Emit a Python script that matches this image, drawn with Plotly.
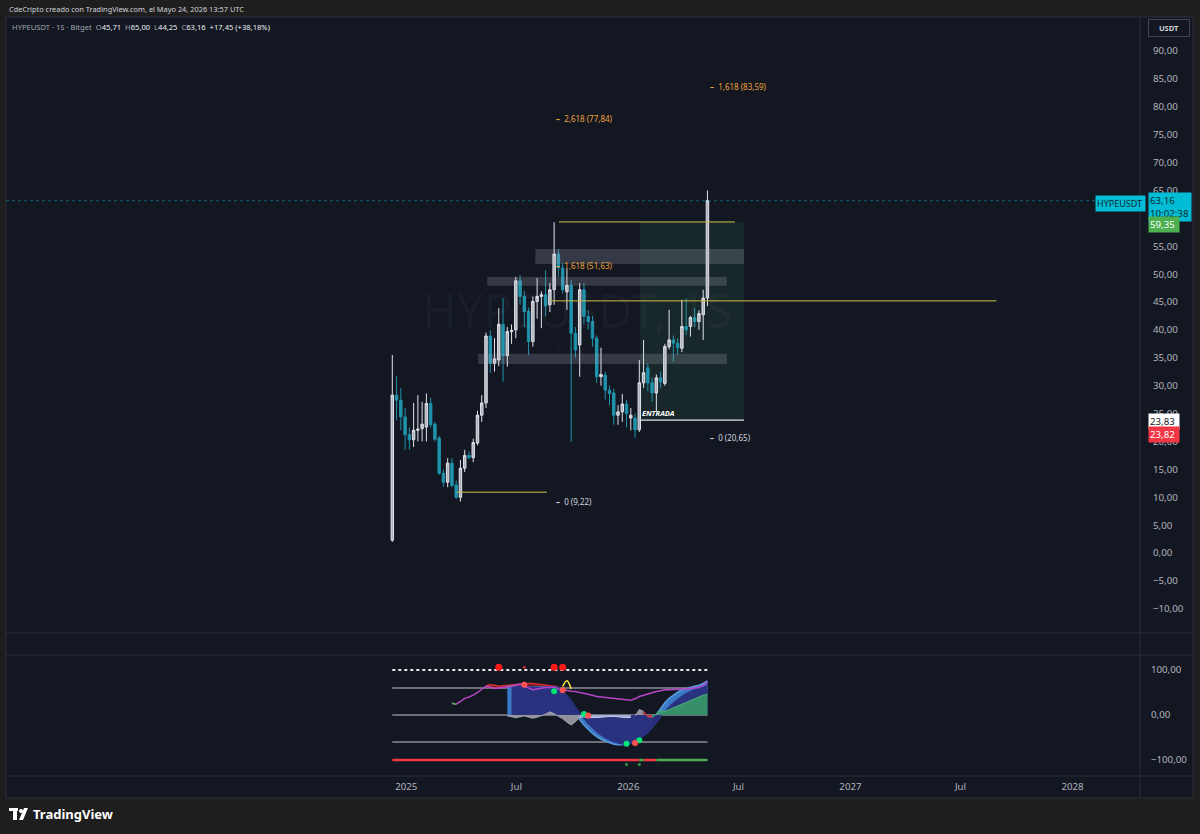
import plotly.graph_objects as go
from datetime import date, timedelta

# ---------------- DATA ----------------
start_week = date(2024, 12, 9)

opens = [2.3, 28.3, 27.4, 24.4, 21.2, 20.3, 22.0, 22.3, 22.6, 26.8,
         23.1, 20.6, 14.3, 12.7, 16.1, 12.2, 10.0, 15.2, 17.5, 17.1,
         19.7, 24.7, 26.9, 38.9, 34.0, 34.6, 41.0, 35.4, 39.7, 40.0,
         48.8, 46.0, 43.3, 37.9, 45.1, 46.0, 46.3, 44.5, 47.2, 53.6,
         51.1, 46.8, 48.0, 39.4, 37.3, 47.2, 42.4, 41.5, 38.5, 31.6,
         31.9, 29.2, 28.7, 24.7, 25.3, 26.7, 24.2, 24.2, 22.1, 30.5,
         33.2, 30.5, 28.7, 31.4, 30.4, 37.0, 38.2, 37.6, 36.7, 40.6,
         40.6, 42.2, 41.5, 42.7, 45.71]
highs = [35.5, 31.7, 29.6, 26.0, 22.5, 26.9, 28.3, 27.1, 28.6, 27.8,
         23.5, 21.0, 15.0, 17.0, 17.0, 13.0, 16.7, 18.5, 18.2, 20.5,
         25.5, 28.3, 39.5, 39.9, 38.5, 43.9, 45.7, 40.5, 41.0, 49.5,
         49.8, 47.0, 44.0, 46.0, 49.3, 46.9, 50.7, 48.4, 59.3, 54.5,
         52.0, 51.0, 49.0, 40.5, 48.4, 48.4, 43.5, 42.5, 39.0, 36.8,
         32.5, 30.0, 29.5, 26.5, 28.5, 27.5, 26.0, 25.0, 34.6, 38.2,
         34.0, 31.5, 32.0, 32.5, 37.5, 43.6, 39.0, 38.5, 45.4, 45.6,
         42.5, 44.0, 43.5, 47.2, 65.0]
lows = [2.0, 23.8, 22.0, 18.5, 18.5, 19.0, 20.0, 20.0, 20.0, 22.5,
        20.0, 14.0, 11.9, 11.8, 11.8, 9.7, 9.22, 14.5, 16.8, 16.3,
        19.3, 23.5, 26.0, 32.3, 32.5, 33.5, 30.7, 33.4, 37.5, 38.5,
        44.5, 40.5, 35.5, 37.0, 42.0, 40.3, 42.4, 43.2, 44.5, 49.5,
        46.5, 43.6, 20.0, 35.0, 31.6, 41.0, 40.0, 37.0, 30.5, 30.0,
        27.5, 26.5, 23.0, 23.0, 23.5, 22.5, 22.0, 20.65, 21.7, 29.6,
        29.0, 27.1, 25.3, 29.5, 30.0, 36.5, 34.3, 35.5, 36.0, 39.0,
        38.8, 40.5, 40.0, 38.2, 44.25]
closes = [28.3, 27.4, 24.4, 21.2, 20.3, 22.0, 22.2, 23.1, 26.8, 23.0,
          20.4, 14.3, 12.7, 16.1, 12.1, 10.0, 15.2, 17.5, 17.1, 19.8,
          24.7, 26.9, 38.9, 34.0, 34.8, 41.0, 35.4, 39.7, 39.9, 48.8,
          46.0, 43.3, 37.9, 45.1, 46.0, 46.3, 44.3, 47.2, 53.6, 51.1,
          47.2, 48.0, 39.4, 36.4, 47.2, 42.4, 41.5, 38.5, 31.6, 32.0,
          29.2, 28.6, 24.7, 25.3, 26.7, 25.0, 24.7, 22.1, 30.5, 32.3,
          30.5, 28.7, 31.4, 30.7, 37.0, 38.2, 37.6, 36.8, 40.6, 40.0,
          42.2, 41.5, 42.9, 45.7, 63.16]

# oscillator pane (values per weekly bar, None before the indicator starts)
osc_rsi = [None] * 14 + [26, 24, 30, 37, 40, 44, 50, 58, 64, 62, 59, 60, 61, 62, 64, 67, 69, 64, 60, 56,
                         58, 60, 61, 61, 62, 58, 56, 54, 53, 52, 50, 49, 46, 44, 41, 40, 38, 37, 36, 36,
                         35, 34, 33, 36, 41, 44, 47, 50, 52, 54, 56, 56, 57, 57, 58, 58, 59, 60, 61, 66, 74]
osc_fast = [None] * 27 + [64, 64, 64, 64, 63, 62, 62, 63, 63, 63, 63, 62, 56, 45, 32, 18, 3, -10, -22, -32,
                          -41, -48, -54, -58, -62, -65, -66, -66, -64, -60, -53, -45, -36, -25, -12, 2, 15, 27, 37, 45,
                          51, 56, 59, 62, 64, 66, 70, 76]
osc_slow = [None] * 28 + [62, 63, 64, 64, 63, 62, 62, 62, 63, 63, 63, 62, 55, 45, 33, 18, 4, -9, -20, -30,
                          -38, -45, -51, -56, -60, -63, -65, -65, -64, -60, -54, -47, -40, -30, -18, -5, 8, 19, 28, 36,
                          42, 48, 53, 57, 60, 62, 66]
osc_mom = [None] * 27 + [-2, -4, -6, -4, -2, -5, -7, -5, -2, 2, 7, 3, -3, -8, -16, -22, -15, -5, -4, -6,
                         -6, -5, -5, -4, -3, -3, -4, -5, -6, -5, -2, 12, 8, -4, -5, 2, 10, 8, 12, 16,
                         20, 24, 28, 32, 36, 40, 44, 46]
osc_ob = [None] * 22 + [65, 67, 66, 64, 65, 66, 67, 68, 68, 69, 70, 70, 69, 68, 67, 66, 65, 63]
osc_arc = [(40, 63), (41, 76), (42, 58)]
osc_levels = [100, 60, 0, -60]
osc_trend = -100
# bar index ranges of the trend line colours
trend_red = [(0, 58), (59, 62)]
trend_green = [(58, 59), (62, 74)]
# signal dots: (bar index, value)
dots_red_top = [(25, 106), (38, 106), (40, 106)]
dots_red_tiny = [(31, 106)]
dots_green = [(38, 53), (45, 2), (55, -64), (58, -56)]
dots_red = [(40, 55), (31, 67), (46, -1), (57, -62)]
dots_green_small = [(55, -110), (58, -110)]

# price axis ticks
price_ticks = [-10, -5, 0, 5, 10, 15, 20, 25, 30, 35, 40, 45, 50, 55, 60, 65, 70, 75, 80, 85, 90]
price_tick_text = ["−10,00", "−5,00", "0,00", "5,00", "10,00", "15,00", "20,00", "25,00", "30,00", "35,00",
                   "40,00", "45,00", "50,00", "55,00", "60,00", "65,00", "70,00", "75,00", "80,00", "85,00", "90,00"]
osc_ticks = [100, 0, -100]
osc_tick_text = ["100,00", "0,00", "−100,00"]
time_ticks = ["2025-01-01", "2025-07-01", "2026-01-01", "2026-07-01", "2027-01-01", "2027-07-01", "2028-01-01"]
time_tick_text = ["2025", "Jul", "2026", "Jul", "2027", "Jul", "2028"]

# drawings (dates, prices)
zones = [("2025-08-01", "2026-07-10", 51.8, 54.5),
         ("2025-05-14", "2026-06-12", 47.9, 49.5),
         ("2025-04-29", "2026-06-12", 33.9, 35.7)]
long_pos = ("2026-01-20", "2026-07-10", 23.83, 59.35)
yellow_lines = [("2025-09-09", "2026-06-25", 59.35),
                ("2025-08-25", "2027-08-29", 45.2),
                ("2025-03-25", "2025-08-20", 10.9)]
fib_labels = [("2025-09-01", 9.22, "0 (9,22)", "#d1d4dc"),
              ("2025-09-01", 51.63, "1,618 (51,63)", "#f0a23a"),
              ("2025-09-01", 77.84, "2,618 (77,84)", "#f0a23a"),
              ("2026-05-12", 83.59, "1,618 (83,59)", "#f0a23a"),
              ("2026-05-12", 20.65, "0 (20,65)", "#d1d4dc")]
last_price = 63.16

N = len(opens)
dates = [start_week + timedelta(weeks=i) for i in range(N)]


def fit(a):
    return (list(a) + [None] * N)[:N]


# ---------------- FIGURE ----------------
W, H = 1200, 834
def px(x): return x / W
def py(y): return 1 - y / H

BG = "#131722"
OUT = "#1e1e1e"
TXT = "#b2b5be"
FONT = "Noto Sans"
TICK = 9.7

d0 = date(2025, 1, 1)
ppd = 0.6086
x_left = d0 + timedelta(days=(6 - 406) / ppd)
x_right = d0 + timedelta(days=(1140 - 406) / ppd)
xr = [x_left.isoformat(), x_right.isoformat()]

fig = go.Figure()

# candles
fig.add_trace(go.Candlestick(
    x=dates, open=opens, high=highs, low=lows, close=closes,
    increasing=dict(line=dict(color="#e0e3eb", width=1), fillcolor="#aeb1ba"),
    decreasing=dict(line=dict(color="#1f93ab", width=1), fillcolor="#1f93ab"),
    whiskerwidth=0, xaxis="x", yaxis="y", showlegend=False, hoverinfo="skip"))

# oscillator level lines
lvl_style = {100: dict(color="#e8e8e8", width=2, dash="dot"),
             60: dict(color="#8a8d96", width=1.5),
             0: dict(color="#8a8d96", width=1.5),
             -60: dict(color="#8a8d96", width=1.5)}
for lv in osc_levels:
    fig.add_trace(go.Scatter(x=[dates[0], dates[-1]], y=[lv, lv], mode="lines",
                             line=lvl_style[lv], xaxis="x2", yaxis="y2",
                             showlegend=False, hoverinfo="skip"))

# overbought red band
fig.add_trace(go.Scatter(x=dates, y=fit([None] * 22 + [60] * 18), mode="lines",
                         line=dict(width=0), xaxis="x2", yaxis="y2", showlegend=False, hoverinfo="skip"))
fig.add_trace(go.Scatter(x=dates, y=fit(osc_ob), mode="lines", fill="tonexty",
                         fillcolor="rgba(200,30,40,0.55)", line=dict(color="#d32f2f", width=1.5),
                         xaxis="x2", yaxis="y2", showlegend=False, hoverinfo="skip"))

# wave areas
fig.add_trace(go.Scatter(x=dates, y=fit(osc_fast), mode="lines", fill="tozeroy",
                         fillcolor="rgba(62,126,205,0.95)", line=dict(color="#5b9be0", width=1.5),
                         xaxis="x2", yaxis="y2", showlegend=False, hoverinfo="skip"))
fig.add_trace(go.Scatter(x=dates, y=fit(osc_slow), mode="lines", fill="tozeroy",
                         fillcolor="rgba(40,47,125,0.97)", line=dict(color="#2c3590", width=1),
                         xaxis="x2", yaxis="y2", showlegend=False, hoverinfo="skip"))

# momentum segments
mom = fit(osc_mom)
seg_cols = [((27, 45), "rgba(150,152,160,0.95)", "#a0a3ab"),
            ((44, 57), "rgba(180,185,225,0.9)", "#c6cae8"),
            ((57, 60), "rgba(150,152,160,0.95)", "#a0a3ab"),
            ((59, 62), "rgba(210,50,60,0.9)", "#e04050"),
            ((61, N), "rgba(56,160,100,0.85)", "#4caf7a")]
for (a, b), fc, lc in seg_cols:
    seg = [mom[i] if a <= i < b else None for i in range(N)]
    fig.add_trace(go.Scatter(x=dates, y=seg, mode="lines", fill="tozeroy", fillcolor=fc,
                             line=dict(color=lc, width=1), xaxis="x2", yaxis="y2",
                             showlegend=False, hoverinfo="skip"))

# rsi-like line
rsi = fit(osc_rsi)
fig.add_trace(go.Scatter(x=dates, y=rsi, mode="lines", line=dict(color="#b845c8", width=1.5),
                         xaxis="x2", yaxis="y2", showlegend=False, hoverinfo="skip"))
fig.add_trace(go.Scatter(x=dates[14:16], y=rsi[14:16], mode="lines", line=dict(color="#4caf50", width=1.5),
                         xaxis="x2", yaxis="y2", showlegend=False, hoverinfo="skip"))

# small yellow arc
fig.add_trace(go.Scatter(x=[dates[i] for i, _ in osc_arc], y=[v for _, v in osc_arc], mode="lines",
                         line=dict(color="#ffeb3b", width=1.5, shape="spline"), xaxis="x2", yaxis="y2",
                         showlegend=False, hoverinfo="skip"))

# trend line at -100
for segs, col in ((trend_red, "#f23645"), (trend_green, "#4caf50")):
    for a, b in segs:
        b = min(b, N - 1)
        fig.add_trace(go.Scatter(x=[dates[a], dates[b]], y=[osc_trend, osc_trend], mode="lines",
                                 line=dict(color=col, width=2.5), xaxis="x2", yaxis="y2",
                                 showlegend=False, hoverinfo="skip"))

# dots
def add_dots(pts, color, size):
    pts = [p for p in pts if p[0] < N]
    fig.add_trace(go.Scatter(x=[dates[i] for i, _ in pts], y=[v for _, v in pts], mode="markers",
                             marker=dict(color=color, size=size), xaxis="x2", yaxis="y2",
                             showlegend=False, hoverinfo="skip"))
add_dots(dots_red_top, "#ff1a1a", 7)
add_dots(dots_red_tiny, "#c62828", 3)
add_dots(dots_green, "#00e676", 6)
add_dots(dots_red, "#ff5252", 6)
add_dots(dots_green_small, "#2e9c48", 3)

shapes = []
# chart frame
shapes.append(dict(type="rect", xref="paper", yref="paper", x0=px(6), x1=px(1193), y0=py(798), y1=py(17),
                   fillcolor=BG, line=dict(color="#2a2e39", width=1), layer="below"))
# pane separators, axis borders
for yy in (633, 655, 776):
    shapes.append(dict(type="line", xref="paper", yref="paper", x0=px(6), x1=px(1193), y0=py(yy), y1=py(yy),
                       line=dict(color="#2a2e39", width=1)))
shapes.append(dict(type="line", xref="paper", yref="paper", x0=px(1140), x1=px(1140), y0=py(798), y1=py(17),
                   line=dict(color="#2a2e39", width=1)))

# zones
for a, b, lo, hi in zones:
    shapes.append(dict(type="rect", xref="x", yref="y", x0=a, x1=b, y0=lo, y1=hi,
                       fillcolor="rgba(190,196,210,0.2)", line=dict(width=0), layer="above"))
# long position box
la, lb, entry, target = long_pos
shapes.append(dict(type="rect", xref="x", yref="y", x0=la, x1=lb, y0=entry, y1=target,
                   fillcolor="rgba(60,150,90,0.13)", line=dict(width=0), layer="below"))
shapes.append(dict(type="line", xref="x", yref="y", x0=la, x1=lb, y0=entry, y1=entry,
                   line=dict(color="#e0e3eb", width=1.2)))
# yellow lines
for a, b, p in yellow_lines:
    shapes.append(dict(type="line", xref="x", yref="y", x0=a, x1=b, y0=p, y1=p,
                       line=dict(color="#cfc04a", width=1)))
# last price dotted line
shapes.append(dict(type="line", xref="paper", yref="y", x0=px(6), x1=px(1097), y0=last_price, y1=last_price,
                   line=dict(color="rgba(0,188,212,0.45)", width=1, dash="dot")))
# TradingView logo glyph
shapes.append(dict(type="rect", xref="paper", yref="paper", x0=px(9), x1=px(18), y0=py(811), y1=py(808),
                   fillcolor="#ffffff", line=dict(width=0)))
shapes.append(dict(type="rect", xref="paper", yref="paper", x0=px(13), x1=px(17), y0=py(820), y1=py(808),
                   fillcolor="#ffffff", line=dict(width=0)))
shapes.append(dict(type="circle", xref="paper", yref="paper", x0=px(19), x1=px(23), y0=py(813), y1=py(809),
                   fillcolor="#ffffff", line=dict(width=0)))
shapes.append(dict(type="path", xref="paper", yref="paper",
                   path=f"M {px(24)} {py(808)} L {px(28)} {py(808)} L {px(23)} {py(820)} L {px(19)} {py(820)} Z",
                   fillcolor="#ffffff", line=dict(width=0)))

ann = []
ann.append(dict(xref="paper", yref="paper", x=px(7), y=py(9), xanchor="left", yanchor="middle", showarrow=False,
                text="CdeCripto creado con TradingView.com, el Mayo 24, 2026 13:57 UTC",
                font=dict(family=FONT, size=7.4, color="#d1d4dc")))
g = "#a3a6af"
ann.append(dict(xref="paper", yref="paper", x=px(10), y=py(27), xanchor="left", yanchor="middle", showarrow=False,
                text=(f"<span style='color:{g}'>HYPEUSDT · 1S · Bitget</span>  "
                      f"<span style='color:{g}'>O</span>45,71  <span style='color:{g}'>H</span>65,00  "
                      f"<span style='color:{g}'>L</span>44,25  <span style='color:{g}'>C</span>63,16  +17,45 (+38,18%)"),
                font=dict(family=FONT, size=7.6, color="#eef0f4")))
# watermark
ann.append(dict(xref="paper", yref="paper", x=px(577), y=py(310), xanchor="center", yanchor="middle",
                showarrow=False, text="HYPEUSDT, 1S",
                font=dict(family=FONT, size=47, color="rgba(255,255,255,0.035)")))
ann.append(dict(xref="paper", yref="paper", x=px(577), y=py(348), xanchor="center", yanchor="middle",
                showarrow=False, text="Bitget",
                font=dict(family=FONT, size=15, color="rgba(255,255,255,0.035)")))
# fib labels
for d, p, t, c in fib_labels:
    ann.append(dict(xref="x", yref="y", x=d, y=p, xanchor="left", yanchor="middle", showarrow=False,
                    text=f"<b>–</b>  {t}", font=dict(family=FONT, size=8, color=c)))
ann.append(dict(xref="x", yref="y", x=la, y=entry, xanchor="left", yanchor="bottom", showarrow=False,
                text="<b><i>ENTRADA</i></b>", font=dict(family=FONT, size=7.4, color="#ffffff")))
# USDT box
ann.append(dict(xref="paper", yref="paper", x=px(1169), y=py(28), xanchor="center", yanchor="middle",
                showarrow=False, text="<b>USDT</b>",
                font=dict(family=FONT, size=7.5, color="#d1d4dc"), bordercolor="#434651", borderwidth=1,
                borderpad=3, bgcolor=BG, width=34))
# right-side price labels
def box(yc, text, bg, fg, x0=1148, w=38, anchor="left", pad=1, size=TICK):
    ann.append(dict(xref="paper", yref="paper", x=px(x0), y=py(yc), xanchor=anchor, yanchor="middle",
                    showarrow=False, text=text, bgcolor=bg, align="left", width=w, borderpad=pad,
                    font=dict(family=FONT, size=size, color=fg)))
box(203, "HYPEUSDT", "#00bcd4", "#0d2a33", x0=1146, w=47, anchor="right", size=9)
box(206.5, "63,16<br>10:02:38", "#00bcd4", "#0d2a33", w=40)
box(224.5, "59,35", "#4caf50", "#ffffff", w=28)
box(421.5, "23,83", "#ffffff", "#131722", w=28)
box(434.5, "23,82", "#f23645", "#ffffff", w=28)
# logo text
ann.append(dict(xref="paper", yref="paper", x=px(31), y=py(814), xanchor="left", yanchor="middle", showarrow=False,
                text="<b>TradingView</b>", font=dict(family=FONT, size=13, color="#ffffff")))

axis_common = dict(showgrid=False, zeroline=False, showline=False)
fig.update_layout(
    width=W, height=H, margin=dict(l=0, r=0, t=0, b=0),
    paper_bgcolor=OUT, plot_bgcolor="rgba(0,0,0,0)",
    font=dict(family=FONT, color=TXT, size=11),
    hovermode=False, showlegend=False, boxgap=0.18,
    xaxis=dict(domain=[px(6), px(1140)], range=xr, type="date", showticklabels=False,
               rangeslider=dict(visible=False), anchor="y", **axis_common),
    yaxis=dict(domain=[py(633), py(17)], range=[-14.34, 96.09], side="right", anchor="x",
               tickvals=price_ticks, ticktext=price_tick_text, ticks="", ticklabelstandoff=12,
               tickfont=dict(family=FONT, size=TICK, color=TXT), **axis_common),
    xaxis2=dict(domain=[px(6), px(1140)], range=xr, type="date", anchor="y2",
                tickvals=time_ticks, ticktext=time_tick_text, ticks="", ticklabelstandoff=4,
                tickfont=dict(family=FONT, size=TICK, color=TXT), **axis_common),
    yaxis2=dict(domain=[py(775), py(656)], range=[-133.3, 131.1], side="right", anchor="x2",
                tickvals=osc_ticks, ticktext=osc_tick_text, ticks="", ticklabelstandoff=10,
                tickfont=dict(family=FONT, size=TICK, color=TXT), **axis_common),
    shapes=shapes, annotations=ann,
)

fig.write_html("out.html", config={"displayModeBar": False},
               post_script="document.body.style.margin='0';document.body.style.background='#1e1e1e';")
